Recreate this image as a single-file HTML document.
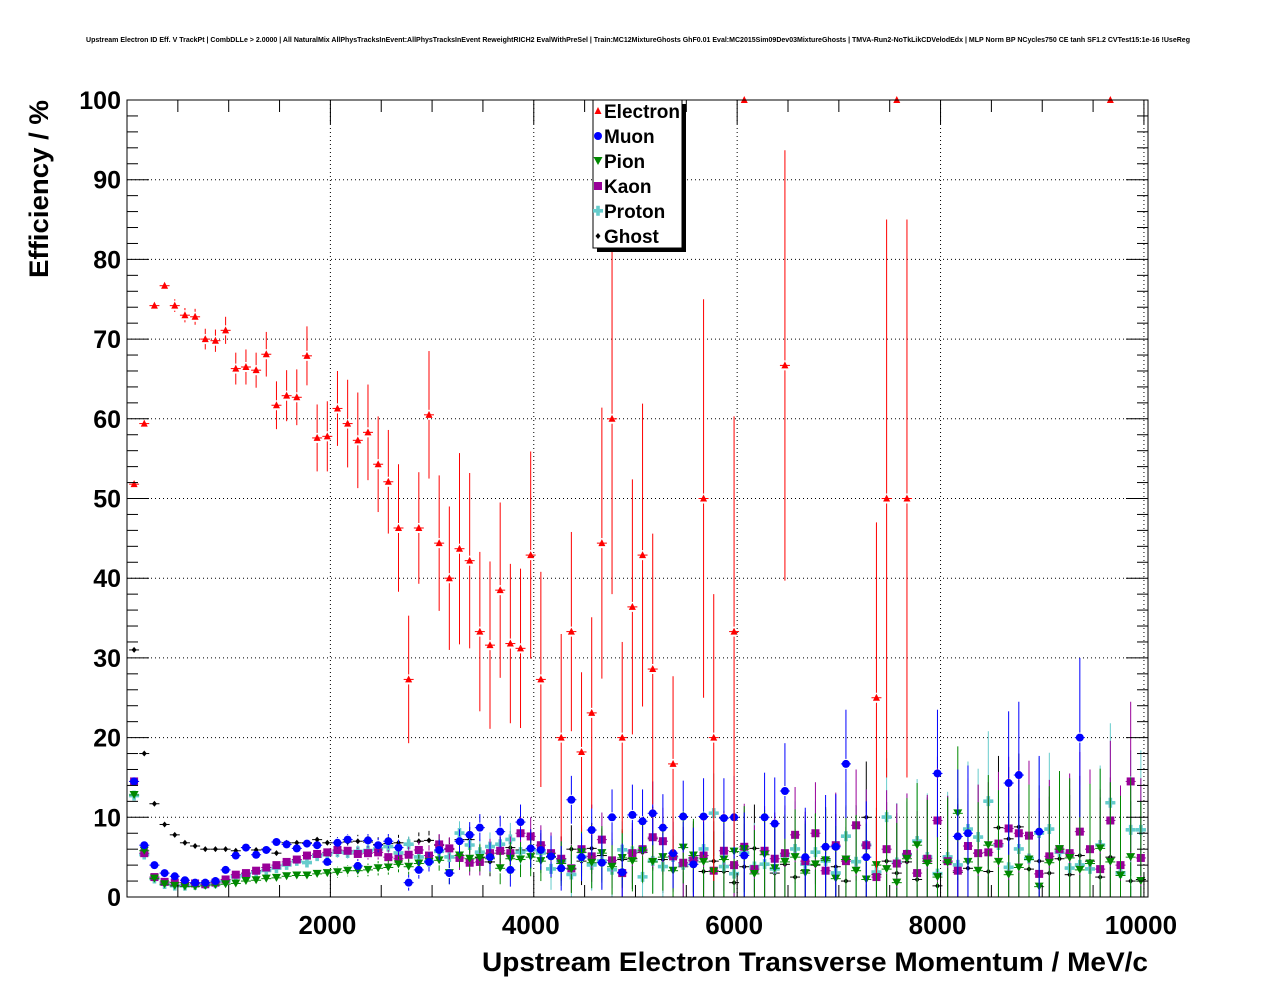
<!DOCTYPE html>
<html><head><meta charset="utf-8"><style>
html,body{margin:0;padding:0;background:#fff;}
svg{display:block;font-family:"Liberation Sans",sans-serif;}
</style></head><body>
<svg id="chart" width="1276" height="996" viewBox="0 0 1276 996">
<rect x="0" y="0" width="1276" height="996" fill="#fff"/>
<text x="638" y="42" font-size="7" font-weight="bold" text-anchor="middle" textLength="1104" lengthAdjust="spacingAndGlyphs">Upstream Electron ID Eff. V TrackPt | CombDLLe &gt; 2.0000 | All NaturalMix AllPhysTracksInEvent:AllPhysTracksInEvent ReweightRICH2 EvalWithPreSel | Train:MC12MixtureGhosts GhF0.01 Eval:MC2015Sim09Dev03MixtureGhosts | TMVA-Run2-NoTkLikCDVelodEdx | MLP Norm BP NCycles750 CE tanh SF1.2 CVTest15:1e-16 !UseReg</text>
<g id="grid"></g>
<g id="series"></g>
<rect x="127" y="100" width="1021" height="797" fill="none" stroke="#000" stroke-width="1"/>
<g id="axes"></g>
<text transform="translate(48,278) rotate(-90)" font-size="27" font-weight="bold" textLength="178" lengthAdjust="spacingAndGlyphs">Efficiency / %</text>
<text x="1148" y="971" font-size="27" font-weight="bold" text-anchor="end" textLength="666" lengthAdjust="spacingAndGlyphs">Upstream Electron Transverse Momentum / MeV/c</text>
<g>
<rect x="597" y="104" width="89" height="148" fill="#000"/>
<rect x="593" y="100" width="89" height="148" fill="#fff" stroke="#000"/>
<g id="legend"></g>
</g>
</svg>
<script>
const binCenters = Array.from({length:100},(_, i)=>50+100*i);
const xTicks = [2000,4000,6000,8000,10000];
const yTicks = [0,10,20,30,40,50,60,70,80,90,100];
const seriesNames = ["Electron","Muon","Pion","Kaon","Proton","Ghost"];
const N = null;
const electron = [51.8,59.4,74.2,76.7,74.2,73.0,72.8,70.0,69.8,71.1,66.3,66.5,66.1,68.1,61.7,62.9,62.7,67.9,57.6,57.8,61.3,59.4,57.3,58.3,54.3,52.1,46.3,27.3,46.3,60.5,44.4,40.0,43.7,42.2,33.3,31.6,38.5,31.8,31.2,42.9,27.3,N,20.0,33.3,18.2,23.1,44.4,60.0,20.0,36.4,42.9,28.6,N,16.7,N,N,50.0,20.0,N,33.3,100,N,N,N,66.7,N,N,N,N,N,N,N,N,25.0,50.0,100,50.0,N,N,N,N,N,N,N,N,N,N,N,N,N,N,N,N,N,N,N,100,N,N,N];
const electronErr = [0.5,0.6,0.5,0.6,0.8,0.9,1,1.3,1.4,1.7,2,2.2,2.2,2.8,3,3.2,3.5,3.7,4.2,4.4,4.7,5.5,6,6,6,6.5,8,8,7,8,8.5,9,12,11,10,10.5,11,10,10,13,13.5,0,13,12.5,10,12,17,22,12,16,19,17,0,11,0,0,25,18,0,27,0,0,0,0,27,0,0,0,0,0,0,0,0,22,35,0,35,0,0,0,0,0,0,0,0,0,0,0,0,0,0,0,0,0,0,0,0,0,0,0];
const muon = [14.5,6.5,4.0,3.0,2.6,2.1,1.8,1.8,2.0,3.4,5.2,6.2,5.3,5.9,6.9,6.6,6.1,6.7,6.5,4.4,6.8,7.2,3.9,7.1,6.5,7.0,6.2,1.8,3.4,4.4,5.9,3.0,7.0,7.8,8.7,5.0,8.2,3.4,9.4,6.1,
 5.9,5.1,3.6,12.2,5.0,8.4,4.3,10.0,3.1,10.3,9.5,10.5,8.7,5.5,10.1,4.1,10.1,N,9.9,10.0,5.2,N,10.0,9.2,13.3,N,5.0,N,6.3,6.3,16.7,N,5.0,N,N,N,N,N,N,15.5,N,7.6,8.0,N,N,N,14.3,15.3,N,8.2,N,N,N,20.0,N,N,N,N,N,N];
const pion = [12.8,5.8,2.3,1.6,1.4,1.3,1.3,1.4,1.5,1.6,1.7,2.0,2.1,2.3,2.4,2.6,2.7,2.7,2.9,3.0,3.1,3.3,3.3,3.4,3.6,3.7,4.1,3.8,4.2,4.4,4.6,3.0,5.2,4.8,4.9,4.8,3.6,4.8,4.7,5.0,
 4.5,5.0,4.2,3.5,5.6,4.3,5.5,3.8,4.9,4.5,5.8,4.4,5.0,3.3,6.2,5.2,4.4,3.2,4.7,5.7,6.0,2.9,5.3,3.6,4.4,5.0,3.0,4.1,4.6,2.3,4.7,3.3,2.2,4.0,3.5,1.8,4.8,6.5,4.2,2.5,4.3,10.5,4.4,3.3,6.5,4.4,2.8,3.7,4.7,1.3,4.3,6.0,4.9,3.4,4.2,6.1,4.4,2.7,5.0,2.0];
const kaon = [14.5,5.5,2.5,1.9,1.8,1.8,1.7,1.6,1.8,2.2,2.8,3.0,3.3,3.7,4.0,4.4,4.7,5.2,5.4,5.6,5.9,5.8,5.4,5.5,5.6,5.0,4.8,5.3,5.9,5.2,6.6,6.1,4.9,4.3,4.4,5.5,5.8,5.5,8.0,7.6,
 6.5,5.5,4.8,3.6,6.0,5.1,7.2,4.6,3.0,5.5,6.0,7.5,7.0,5.1,4.3,4.6,5.2,3.3,5.8,4.0,6.3,3.5,5.8,4.8,5.5,7.8,4.5,8.0,3.3,6.5,4.5,9.0,6.5,2.5,6.0,4.2,5.4,3.0,4.8,9.6,4.5,3.3,6.4,5.5,5.6,6.7,8.6,8.0,7.7,2.9,5.1,6.0,5.5,8.2,6.0,3.5,9.6,4.0,14.5,4.9];
const proton = [12.7,5.3,2.3,1.6,1.4,1.4,1.5,1.6,1.7,2.0,2.5,2.7,3.1,3.3,3.6,4.0,4.5,4.3,5.1,5.3,5.6,5.5,5.7,5.8,6.0,6.3,5.5,6.6,5.0,4.4,5.7,5.0,8.0,6.5,5.6,6.3,6.6,7.2,5.6,5.9,
 5.5,3.5,4.5,2.8,5.0,4.0,4.5,3.4,5.9,5.7,2.5,4.5,3.8,5.0,4.0,4.6,6.0,10.5,3.8,2.9,5.5,3.8,4.1,3.5,5.2,6.0,4.1,5.6,4.5,3.0,7.6,4.4,6.5,3.1,10.0,4.3,5.3,7.0,5.0,2.9,5.0,4.0,8.5,7.5,12.0,6.5,3.7,6.0,4.8,8.0,8.5,5.6,3.6,4.0,3.5,6.5,11.8,3.0,8.4,8.4];
const ghost = [31.0,18.0,11.7,9.1,7.8,6.8,6.4,6.0,6.0,6.0,5.8,6.2,5.9,6.0,5.5,6.8,6.8,6.8,7.2,6.8,6.8,6.9,7.0,6.9,6.6,6.7,6.8,6.5,7.0,7.1,6.5,6.0,7.2,7.2,5.0,4.4,5.5,6.2,5.9,5.9,
 5.5,5.0,4.8,6.0,4.5,6.1,5.2,3.5,4.7,4.8,5.6,7.3,4.7,5.0,3.8,4.9,3.2,4.5,3.2,1.8,3.8,6.1,4.0,3.0,4.1,2.5,3.3,4.0,4.8,3.8,2.0,4.5,10.0,2.8,4.5,3.0,4.4,2.2,4.5,1.4,4.5,3.1,3.6,5.5,3.2,8.7,7.3,8.8,3.5,4.5,3.0,4.8,2.8,5.2,4.5,2.5,5.0,3.2,2.0,2.2];
const otherErr = [0.3,0.3,0.3,0.3,0.3,0.3,0.3,0.3,0.3,0.3,0.4,0.4,0.4,0.5,0.5,0.5,0.5,0.6,0.6,0.6,0.7,0.7,0.8,0.8,0.9,0.9,1.0,1.0,1.1,1.2,1.3,1.4,1.5,1.6,1.7,1.8,2.0,2.1,2.2,2.4,
 2.5,2.6,2.8,3.0,3.0,3.2,3.4,3.5,3.6,3.8,4.0,4.0,4.2,4.4,4.5,4.6,4.8,5.0,5.0,5.2,5.4,5.5,5.6,5.8,6.0,6.0,6.2,6.4,6.5,6.6,6.8,7.0,7.0,7.2,7.4,7.5,7.6,7.8,8.0,8.0,8.2,8.4,8.5,8.6,8.8,9.0,9.0,9.2,9.4,9.5,9.6,9.8,10,10,10,10,10,10,10,10];

const X0=127, X1=1148, Y0=897, Y1=100, XMAX=10040;
const sx = v => X0 + v/XMAX*(X1-X0);
const sy = v => Y0 - v/100*(Y0-Y1);
const NS="http://www.w3.org/2000/svg";
function mk(tag, attrs, parent){const e=document.createElementNS(NS,tag);for(const k in attrs)e.setAttribute(k,attrs[k]);parent.appendChild(e);return e;}

const grid=document.getElementById('grid');
xTicks.forEach(t=>{ if(t<XMAX){const l=mk('line',{x1:sx(t),x2:sx(t),y1:Y1,y2:Y0,stroke:'#000','stroke-dasharray':'1,3','stroke-width':1},grid);

}});
yTicks.forEach(t=>{ if(t>0&&t<100){const l=mk('line',{x1:X0,x2:X1,y1:sy(t),y2:sy(t),stroke:'#000','stroke-dasharray':'1,3','stroke-width':1},grid);

}});

const axes=document.getElementById('axes');
for(let v=0; v<=100; v+=2){const major=v%10===0;const L=major?22:11;
 const a=mk('line',{x1:X0,x2:X0+L,y1:sy(v),y2:sy(v),stroke:'#000'},axes);
 
 
 const b=mk('line',{x1:X1,x2:X1-L,y1:sy(v),y2:sy(v),stroke:'#000'},axes);
 
 }
for(let v=500; v<XMAX; v+=500){const major=v%2000===0;const L=major?24:12;
 const a=mk('line',{x1:sx(v),x2:sx(v),y1:Y0,y2:Y0-L,stroke:'#000'},axes);
 
 
 const b=mk('line',{x1:sx(v),x2:sx(v),y1:Y1,y2:Y1+L,stroke:'#000'},axes);
 
 }
yTicks.forEach(t=>{const tx=mk('text',{x:X0-6,y:sy(t)+9,'font-size':25,'font-weight':'bold','text-anchor':'end'},axes);tx.textContent=t;
 
 });
xTicks.forEach(t=>{const tx=mk('text',{x:sx(t)-3,y:934,'font-size':26,'font-weight':'bold','text-anchor':'middle'},axes);tx.textContent=t;
 
 });

function marker(g,type,x,y,color,s){
 if(type==='tri'){mk('polygon',{points:`${x},${y-4} ${x-3.5},${y+3} ${x+3.5},${y+3}`,fill:color},g);}
 else if(type==='circ'){mk('circle',{cx:x,cy:y,r:4,fill:color},g);}
 else if(type==='tdown'){mk('polygon',{points:`${x-4.5},${y-4} ${x+4.5},${y-4} ${x},${y+4}`,fill:color},g);}
 else if(type==='sq'){mk('rect',{x:x-4,y:y-4,width:8,height:8,fill:color},g);}
 else if(type==='cross'){mk('path',{d:`M${x-5},${y-2}h3.2v-3.2h3.6v3.2h3.2v3.6h-3.2v3.2h-3.6v-3.2h-3.2z`,fill:color},g);}
 else if(type==='dia'){mk('polygon',{points:`${x},${y-3} ${x+2.5},${y} ${x},${y+3} ${x-2.5},${y}`,fill:color},g);}
}
const seriesDefs=[
 {name:'electron',vals:electron,err:electronErr,type:'tri',color:'#ff0000'},
 {name:'muon',vals:muon,err:otherErr,type:'circ',color:'#0000ff'},
 {name:'pion',vals:pion,err:otherErr,type:'tdown',color:'#008800'},
 {name:'kaon',vals:kaon,err:otherErr,type:'sq',color:'#990099'},
 {name:'proton',vals:proton,err:otherErr,type:'cross',color:'#66cccc'},
 {name:'ghost',vals:ghost,err:otherErr,type:'dia',color:'#000000'}];
const sl=document.getElementById('series');
seriesDefs.slice().reverse().forEach(sd=>{
 const g=mk('g',{},sl);
 
 
 sd.vals.forEach((v,i)=>{ if(v===null) return;
  const x=sx(binCenters[i])+2, y=sy(v);
  const e=sd.err[i]||0;
  const yl=sy(Math.max(0,v-e)), yh=sy(Math.min(100,v+e));
  if(yl-yh>10){mk('line',{x1:x,x2:x,y1:yh,y2:y-5,stroke:sd.color,'stroke-width':1},g);mk('line',{x1:x,x2:x,y1:y+5,y2:yl,stroke:sd.color,'stroke-width':1},g);}
  const h=mk('line',{x1:x-5,x2:x+5,y1:y,y2:y,stroke:sd.color,'stroke-width':1},g);
  
  
  marker(g,sd.type,x,y,sd.color);
 });
});
const lg=document.getElementById('legend');
seriesDefs.forEach((sd,i)=>{const y=111+i*25;
 const g=mk('g',{},lg);
 
 
 marker(g,sd.type,598,y,sd.color);
 const t=mk('text',{x:604,y:y+7,'font-size':19,'font-weight':'bold'},g);t.textContent=seriesNames[i];});
</script>
</body></html>
